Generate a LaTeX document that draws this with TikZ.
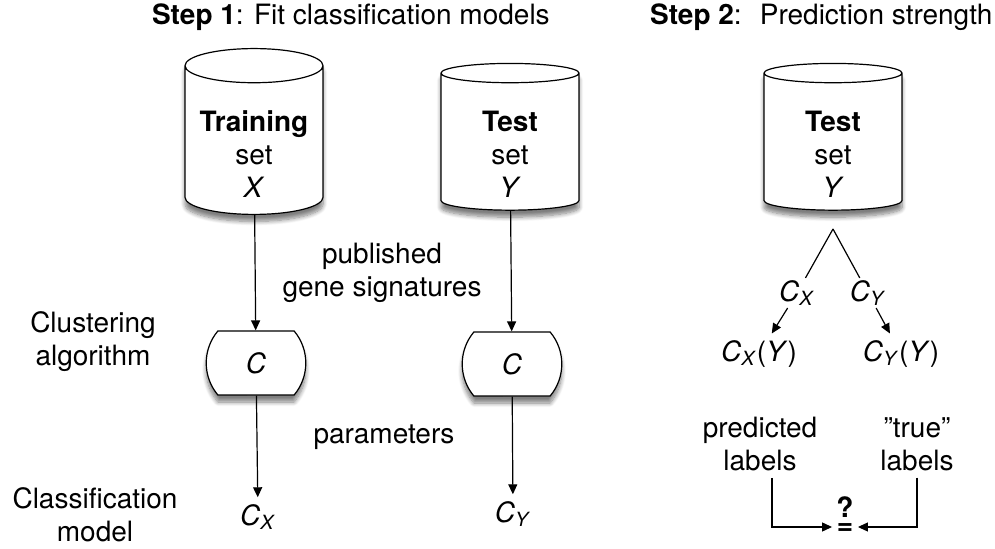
\documentclass[tikz,border=0pt]{standalone}
\usepackage{fontspec}
\setmainfont{TeX Gyre Heros}
\usetikzlibrary{arrows.meta,shapes.geometric,shapes.misc,shadows.blur}
\newcommand{\csub}[1]{\textit{C}\textsubscript{\textit{#1}}}
\newcommand{\topgap}{\rule{0pt}{21pt}}

\begin{document}
\begin{tikzpicture}[x=0.5pt,y=-0.5pt,
	every node/.style={font=\fontsize{14}{16.5}\selectfont, align=center},
	dbase/.style={cylinder, shape border rotate=90, aspect=0.28, draw, fill=white, line width=0.6pt,
		minimum width=69pt, minimum height=69pt,
		blur shadow={shadow xshift=0pt, shadow yshift=-3.5pt, shadow blur steps=8, shadow opacity=50}},
	algbox/.style={rounded rectangle, rounded rectangle arc length=80, draw, fill=white, line width=0.6pt,
		minimum width=44pt, minimum height=32pt,
		blur shadow={shadow xshift=0pt, shadow yshift=-3.5pt, shadow blur steps=8, shadow opacity=50}},
	link/.style={line width=0.6pt, -{Triangle[length=5pt,width=4.5pt]}}]
	\useasboundingbox (0,0) rectangle (995,549);

	% titles
	\node[anchor=west] (title1) at (145,17) {\textbf{Step 1}: Fit classification models};
	\node[anchor=west] (title2) at (643,17) {\textbf{Step 2}:~ Prediction strength};

	% step 1
	\node[dbase] (train) at (254,144) {\topgap\textbf{Training}\\set\\\textit{X}};
	\node[dbase] (test) at (510,144) {\topgap\textbf{Test}\\set\\\textit{Y}};
	\node[algbox] (algX) at (256,363) {\textit{C}};
	\node[algbox] (algY) at (512,364) {\textit{C}};
	\node (cx) at (258,517) {\csub{X}};
	\node (cy) at (513,514) {\csub{Y}};
	\draw[link] (train) -- (algX);
	\draw[link] (test) -- (algY);
	\draw[link] (algX) -- (cx);
	\draw[link] (algY) -- (cy);

	\node (clust) at (93,342) {Clustering\\algorithm};
	\node (classmod) at (95,515) {Classification\\model};
	\node (pub) at (382,273) {published\\gene signatures};
	\node (param) at (384,437) {parameters};

	% step 2
	\node[dbase] (test2) at (833,144) {\topgap\textbf{Test}\\set\\\textit{Y}};
	\coordinate (fork) at (833,229);
	\node[inner sep=1pt] (cxl) at (797,293) {\csub{X}};
	\node[inner sep=1pt] (cyl) at (868,293) {\csub{Y}};
	\node (cxy) at (759,354) {\csub{X}(\textit{Y})};
	\node (cyy) at (901,354) {\csub{Y}(\textit{Y})};
	\draw[line width=0.6pt] (fork) -- (cxl);
	\draw[line width=0.6pt] (fork) -- (cyl);
	\draw[link] (cxl) -- (cxy);
	\draw[link] (cyl) -- (cyy);

	\node (pred) at (760,444) {predicted\\labels};
	\node (true) at (917,444) {"true"\\labels};
	\node[inner sep=2pt] (eq) at (845,516) {\textbf{?}\\[-8pt]\textbf{=}};
	\draw[link] ([xshift=6pt]pred.south) |- ([yshift=-5.5pt]eq.west);
	\draw[link] (true.south) |- ([yshift=-5.5pt]eq.east);
\end{tikzpicture}
\end{document}
